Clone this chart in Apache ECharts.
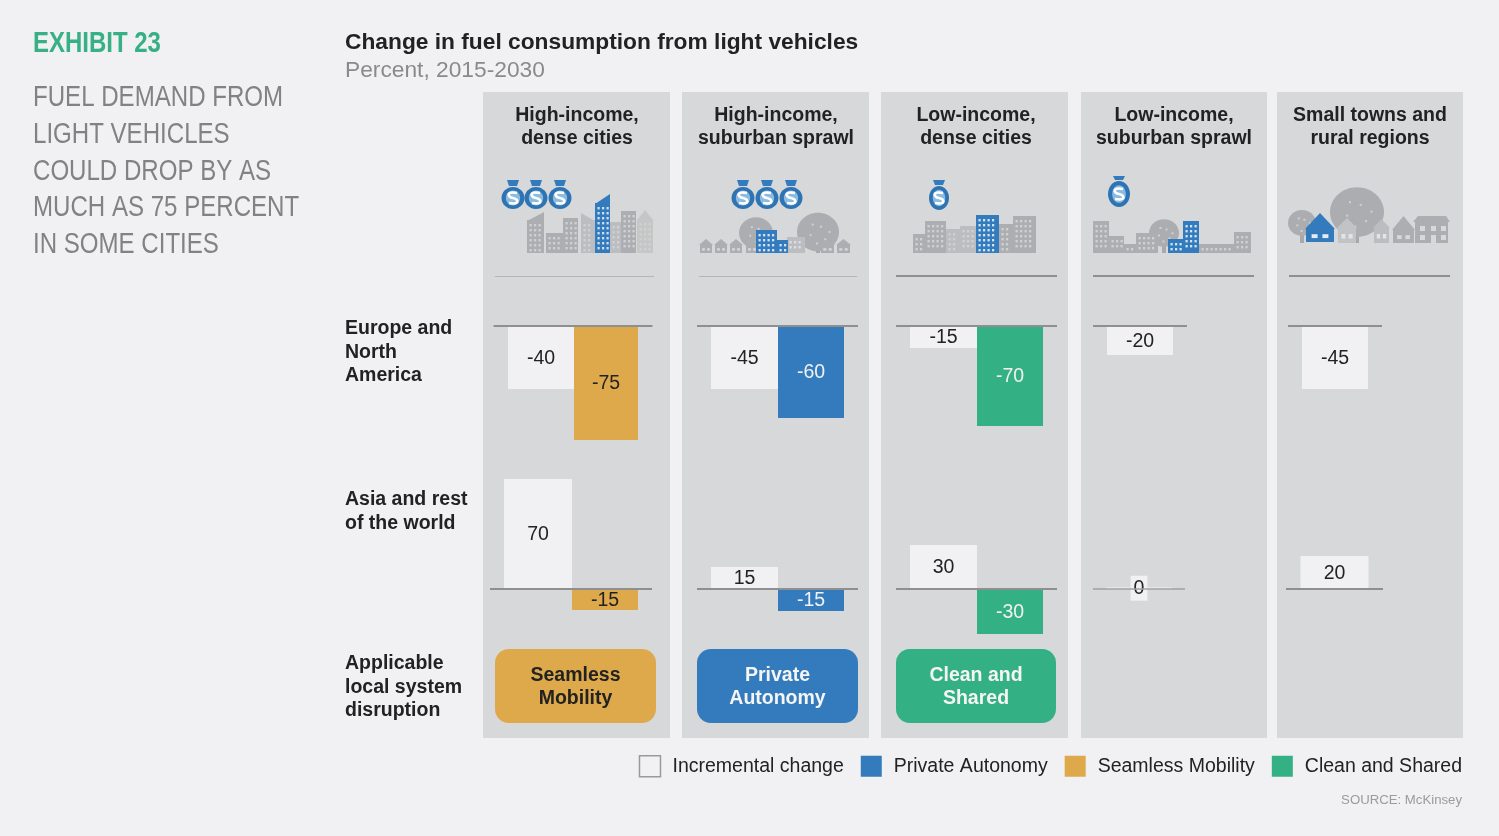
<!DOCTYPE html>
<html><head><meta charset="utf-8">
<script src="https://cdn.jsdelivr.net/npm/echarts@6/dist/echarts.min.js"></script>
<style>html,body{margin:0;padding:0;background:#f1f1f3}#c{width:1499px;height:836px}</style>
</head><body><div id="c"></div>
<script>
// ---- data ----
const cityTypes = ['High-income,\ndense cities','High-income,\nsuburban sprawl','Low-income,\ndense cities','Low-income,\nsuburban sprawl','Small towns and\nrural regions'];
const regions = ['Europe and\nNorth\nAmerica','Asia and rest\nof the world','Applicable\nlocal system\ndisruption'];
const disruptionNames = ['Seamless Mobility','Private Autonomy','Clean and Shared',null,null];
const pillLabels = ['Seamless\nMobility','Private\nAutonomy','Clean and\nShared'];
const europeIncremental = [-40,-45,-15,-20,-45];
const europeDisruption  = [-75,-60,-70,null,null];
const asiaIncremental   = [70,15,30,0,20];
const asiaDisruption    = [-15,-15,-30,null,null];
const legendNames = ['Incremental change','Private Autonomy','Seamless Mobility','Clean and Shared'];

// ---- layout and style (not data) ----
const PANEL='#d7d8da', BG='#f1f1f3', GREY='#acaeb1', LGREY='#bcbdc0', BLUE='#337bbd', DARK='#222222', LINE='#8f8f8f';
const colors={'Seamless Mobility':'#dea94b','Private Autonomy':'#337bbd','Clean and Shared':'#34b085'};
const labelColors={'Seamless Mobility':DARK,'Private Autonomy':BG,'Clean and Shared':BG};
const panels=[[483,187],[682,187],[881,187],[1081,186],[1277,186]];
const headerX=[577,776,976,1174,1370];
// per-cell placement: baseline left, baseline width, px per unit (incremental, disruption), bar widths
const row1Cells=[[493.5,159,1.575,1.52,66,64],[697,161,1.4,1.533,67,66],[896,161,1.47,1.43,67,66],[1093,94,1.45,1,66,0],[1288,94,1.4,1,66,0]];
const row2Cells=[[490,162,1.57,1.4,68,66],[697,161,1.47,1.47,67,66],[896,161,1.47,1.5,67,66],[1093,92,1.45,1,66,0],[1286,97,1.65,1,68,0]];
const ROW1={base:326,up:0,down:130}, ROW2={base:589,up:120,down:50};

const grids=[],xAxes=[],yAxes=[],series=[];
const valueLabel=(color,extra)=>Object.assign({show:true,position:'inside',color,fontSize:19.5,fontFamily:'Liberation Sans',offset:[0,1]},extra);
function addCell(row,cell,incr,disr,name,thin){
  const [l,w,k1,k2,b1,b2]=cell, i=grids.length, y0=yAxes.length;
  grids.push({left:l,width:w,top:row.base-row.up,height:row.up+row.down});
  xAxes.push({gridIndex:i,type:'category',data:[''],z:6,axisTick:{show:false},axisLabel:{show:false},
    axisLine:{show:true,onZero:true,lineStyle:{color:thin?'#a0a1a3':LINE,width:thin?1.5:2,cap:'butt'}}});
  yAxes.push({gridIndex:i,type:'value',show:false,max:row.up/k1,min:-row.down/k1,splitLine:{show:false}});
  series.push({name:'Incremental change',type:'bar',xAxisIndex:i,yAxisIndex:y0,barGap:0,barWidth:b1,barMinHeight:incr===0?1.5:0,data:[incr],
    itemStyle:{color:BG},
    label:valueLabel(DARK,incr===0?{backgroundColor:BG,padding:[3,3,2,3],offset:[0,0]}:{})});
  if(name){
    yAxes.push({gridIndex:i,type:'value',show:false,max:row.up/k2,min:-row.down/k2,splitLine:{show:false}});
    series.push({name,type:'bar',xAxisIndex:i,yAxisIndex:y0+1,barGap:0,barWidth:b2,data:[disr],
      itemStyle:{color:colors[name]},label:valueLabel(labelColors[name])});
  }
}
cityTypes.forEach((_,c)=>{
  addCell(ROW1,row1Cells[c],europeIncremental[c],europeDisruption[c],disruptionNames[c],false);
  addCell(ROW2,row2Cells[c],asiaIncremental[c],asiaDisruption[c],disruptionNames[c],asiaIncremental[c]===0);
});

// ---- decorative graphics ----
const g=[];
const FF='Liberation Sans';
function rect(x,y,w,h,fill,r){g.push({type:'rect',silent:true,shape:{x,y,width:w,height:h,r:r||0},style:{fill}});}
function text(x,y,t,o,scaleX){g.push({type:'text',silent:true,x,y,scaleX:scaleX||1,style:Object.assign({text:t,fontFamily:FF,fill:DARK,fontSize:19.5,verticalAlign:'top'},o)});}
function line(x1,x2,y,c,w){g.push({type:'line',silent:true,shape:{x1,y1:y,x2,y2:y},style:{stroke:c,lineWidth:w}});}
function poly(points,fill){g.push({type:'polygon',silent:true,shape:{points},style:{fill}});}
panels.forEach(p=>rect(p[0],92,p[1],646,PANEL));

function bldg(x,top,w,c,o){
  const bottom=(o&&o.bottom)||253, win=(o&&o.win)||'#d0d1d3';
  rect(x,top,w,bottom-top,c);
  if(o&&o.slant) poly(o.left?[[x,top+1],[x,top-o.slant],[x+w,top+1]]:[[x,top+1],[x+w,top-o.slant],[x+w,top+1]],c);
  if(o&&o.peak) poly([[x,top+1],[x+w/2,top-o.peak],[x+w,top+1]],c);
  for(let yy=top+4;yy<bottom-3;yy+=5) for(let xx=x+2.5;xx<x+w-2.5;xx+=4.5) rect(xx,yy,2.2,2.4,win);
}
function tree(cx,cy,r,bottom){
  rect(cx-2,cy,4,(bottom||253)-cy,'#a8a9ac');
  g.push({type:'ellipse',silent:true,shape:{cx,cy,rx:r,ry:r*0.92},style:{fill:'#acadb0'}});
  [[-.4,.1],[.1,-.3],[.3,.3],[-.1,.5],[.5,-.05],[-.3,-.4]].forEach(d=>rect(cx+d[0]*r,cy+d[1]*r,2,2,'#cfd0d2'));
}
function house(x,w,wallTop,peak,bottom,c,win){
  poly([[x,wallTop],[x+w/2,peak],[x+w,wallTop]],c); rect(x+1,wallTop,w-2,bottom-wallTop,c);
  rect(x+w*0.22,wallTop+(bottom-wallTop)*0.4,w*0.2,(bottom-wallTop)*0.3,win||'#d7d8da');
  rect(x+w*0.58,wallTop+(bottom-wallTop)*0.4,w*0.2,(bottom-wallTop)*0.3,win||'#d7d8da');
}
function bag(cx,cy,rx,ry){
  poly([[cx-6,cy-18],[cx+6,cy-18],[cx+4,cy-ry-1],[cx-4,cy-ry-1]],'#337bbd');
  g.push({type:'ellipse',silent:true,shape:{cx,cy,rx,ry},style:{fill:'#2e74b3'}});
  g.push({type:'ellipse',silent:true,shape:{cx,cy,rx:rx*0.62,ry:ry*0.68},style:{fill:'#8dbbe0'}});
  g.push({type:'bezierCurve',silent:true,shape:{x1:cx+4,y1:cy-5,cpx1:cx-7,cpy1:cy-7,x2:cx,y2:cy,cpx2:cx-6,cpy2:cy-1},style:{stroke:'#fff',lineWidth:2.6,fill:null}});
  g.push({type:'bezierCurve',silent:true,shape:{x1:cx,y1:cy,cpx1:cx+6,cpy1:cy+1,x2:cx-4,y2:cy+5,cpx2:cx+7,cpy2:cy+7},style:{stroke:'#fff',lineWidth:2.6,fill:null}});
}
// column 1 skyline
bldg(527,220,17,GREY,{slant:8});
bldg(546,233,17,GREY); bldg(563,218,15,GREY); bldg(581,220,14,LGREY,{slant:7,left:true});
bldg(610,222,11,LGREY); bldg(621,211,15,GREY); bldg(637,219,16,'#c6c6c6',{peak:9});
bldg(595,203,15,BLUE,{slant:9,win:'#cfe0f0'});
[513,536,560].forEach(x=>bag(x,198,11.5,11));
// column 2 suburb
tree(756,233,17); tree(818,232,21);
[699,714,729,745].forEach(x=>house(x,14,245,239,253,GREY));
[820,836].forEach(x=>house(x,15,245,239,253,GREY));
bldg(787,237,18,LGREY,{win:'#dedfe1'});
bldg(756,230,21,BLUE,{win:'#d5e4f2'}); bldg(777,240,11,BLUE,{win:'#d5e4f2'});
[743,767,791].forEach(x=>bag(x,198,11.5,11));
// column 3 skyline
bldg(913,234,12,GREY); bldg(925,221,21,GREY); bldg(946,229,14,LGREY); bldg(960,226,16,LGREY);
bldg(999,224,14,GREY); bldg(1013,216,23,GREY); bldg(976,215,23,BLUE,{win:'#d5e4f2'});
bag(939,198,10,12);
// column 4 suburb
tree(1164,233,15);
bldg(1093,221,16,GREY); bldg(1109,236,15,GREY); bldg(1124,244,12,GREY); bldg(1136,233,22,GREY);
bldg(1199,244,35,GREY); bldg(1234,232,17,GREY);
bldg(1168,239,15,BLUE,{win:'#d5e4f2'}); bldg(1183,221,16,BLUE,{win:'#d5e4f2'});
bag(1119,194,11,13);
// column 5 rural
tree(1302,223,14,243); tree(1357,212,27,243);
house(1337,20,228,218,243,'#c2c3c5','#e3e4e6'); house(1373,17,228,219,243,'#bcbdc0','#e3e4e6');
house(1392,23,230,216,243,GREY); 
poly([[1413,222],[1418,216],[1446,216],[1450,222]],GREY); rect(1415,222,33,21,GREY);
[[1420,226],[1431,226],[1441,226],[1420,235],[1441,235]].forEach(d=>rect(d[0],d[1],5,5,PANEL));
rect(1431,235,5,8,PANEL);
house(1305,30,229,213,242,BLUE,'#e3ecf4');

// divider lines under the icons
line(495,654,276.5,'#b4b5b7',1); line(699,857,276.5,'#b4b5b7',1);
line(896,1057,276,LINE,2); line(1093,1254,276,LINE,2); line(1289,1450,276,LINE,2);

// panel headers
cityTypes.forEach((t,i)=>text(headerX[i],104,t,{textAlign:'center',fontWeight:'bold',lineHeight:23}));
// row labels
const rowY=[317,488,652];
regions.forEach((t,i)=>text(345,rowY[i],t,{fontWeight:'bold',lineHeight:23.5}));
// left-hand caption
text(33,29,'EXHIBIT 23',{fontWeight:'bold',fontSize:29,fill:'#37b085'},0.827);
text(33,80,'FUEL DEMAND FROM\nLIGHT VEHICLES\nCOULD DROP BY AS\nMUCH AS 75 PERCENT\nIN SOME CITIES',{fontSize:29,lineHeight:36.7,fill:'#828285'},0.83);
// disruption pills
[[495,161,'#dea94b',DARK],[697,161,'#337bbd','#f5f5f5'],[896,160,'#34b085','#f5f5f5']].forEach((p,i)=>{
  rect(p[0],649,p[1],74,p[2],14);
  text(p[0]+p[1]/2,664,pillLabels[i],{textAlign:'center',fontWeight:'bold',lineHeight:23,fill:p[3]});
});
text(1462,794,'SOURCE: McKinsey',{textAlign:'right',fontSize:13.2,fill:'#9b9b9e'});

const chart=echarts.init(document.getElementById('c'),null,{renderer:'canvas'});
chart.setOption({
  animation:false,backgroundColor:BG,
  title:{text:'Change in fuel consumption from light vehicles',subtext:'Percent, 2015-2030',left:345,top:30,padding:0,itemGap:2,
    textStyle:{fontFamily:FF,fontWeight:'bold',fontSize:22.75,color:DARK,lineHeight:26},
    subtextStyle:{fontFamily:FF,fontSize:22.75,color:'#8a8a8d',lineHeight:26}},
  legend:{right:37,top:755,padding:0,itemWidth:21,itemHeight:21,itemGap:17,icon:'rect',selectedMode:false,
    textStyle:{fontFamily:FF,fontSize:19.5,color:DARK,padding:[0,0,0,7]},
    data:legendNames.map(n=>n==='Incremental change'
      ?{name:n,itemStyle:{color:BG,borderColor:'#9a9a9a',borderWidth:1.5}}:{name:n})},
  grid:grids,xAxis:xAxes,yAxis:yAxes,series,graphic:{elements:g}
});
</script></body></html>
